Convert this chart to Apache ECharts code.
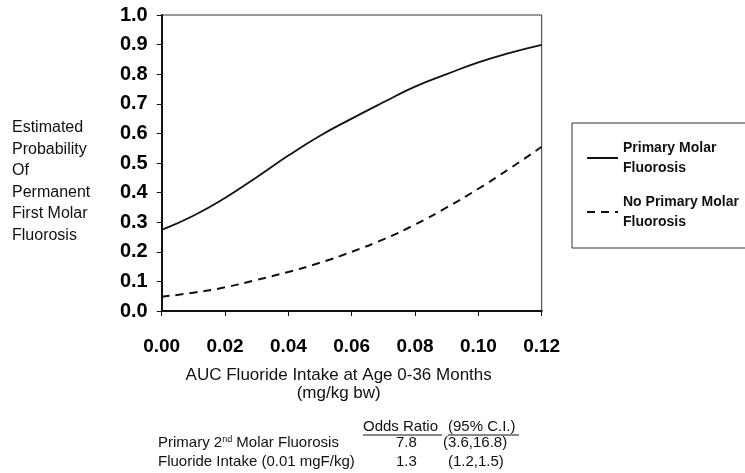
<!DOCTYPE html>
<html>
<head>
<meta charset="utf-8">
<script src="https://cdn.jsdelivr.net/npm/echarts@6/dist/echarts.min.js"></script>
<style>html,body{margin:0;padding:0;background:#fff}#c{width:745px;height:473px}</style>
</head>
<body>
<div id="c"></div>
<script>
const intake = [0.00, 0.01, 0.02, 0.03, 0.04, 0.05, 0.06, 0.07, 0.08, 0.09, 0.10, 0.11, 0.12];
const primaryMolar = [0.274, 0.322, 0.382, 0.452, 0.525, 0.592, 0.650, 0.705, 0.758, 0.800, 0.840, 0.872, 0.899];
const noPrimaryMolar = [0.048, 0.062, 0.080, 0.105, 0.132, 0.163, 0.200, 0.242, 0.292, 0.350, 0.413, 0.482, 0.555];
const seriesNames = ['Primary Molar Fluorosis', 'No Primary Molar Fluorosis'];
const legendLabels = ['Primary Molar\nFluorosis', 'No Primary Molar\nFluorosis'];
const tableHeader = ['Odds Ratio', '(95% C.I.)'];
const tableRows = [
  ['Primary 2{sup|nd} Molar Fluorosis', '7.8', '(3.6,16.8)'],
  ['Fluoride Intake (0.01 mgF/kg)', '1.3', '(1.2,1.5)']
];

const font = 'Liberation Sans, Arial, sans-serif';
const chart = echarts.init(document.getElementById('c'), null, {renderer: 'canvas'});

const graphics = [];
// y axis title
graphics.push({
  type: 'text', left: 12, top: 117,
  style: {text: 'Estimated\nProbability\nOf\nPermanent\nFirst Molar\nFluorosis', font: '16px ' + font, lineHeight: 21.5, fill: '#111'}
});
// table header
const tf = '15px ' + font;
graphics.push({type: 'text', x: 363, y: 427, style: {text: tableHeader[0], font: tf, fill: '#111', verticalAlign: 'middle'}});
graphics.push({type: 'text', x: 448, y: 427, style: {text: tableHeader[1], font: tf, fill: '#111', verticalAlign: 'middle'}});
graphics.push({type: 'line', shape: {x1: 363, y1: 435, x2: 442, y2: 435}, style: {stroke: '#111', lineWidth: 1}});
graphics.push({type: 'line', shape: {x1: 448, y1: 435, x2: 519, y2: 435}, style: {stroke: '#111', lineWidth: 1}});
const rowY = [443, 462];
const ciX = [443, 448];
tableRows.forEach((r, i) => {
  graphics.push({type: 'text', x: 158, y: rowY[i], style: {
    text: r[0], font: tf, fill: '#111', verticalAlign: 'middle',
    rich: {sup: {fontSize: 9, fontFamily: font, padding: [0, 0, 7, 0], fill: '#111'}}
  }});
  graphics.push({type: 'text', x: 396, y: rowY[i], style: {text: r[1], font: tf, fill: '#111', verticalAlign: 'middle'}});
  graphics.push({type: 'text', x: ciX[i], y: rowY[i], style: {text: r[2], font: tf, fill: '#111', verticalAlign: 'middle'}});
});

chart.setOption({
  animation: false,
  backgroundColor: '#fff',
  grid: {left: 161.7, right: 203.3, top: 15, bottom: 162, show: true, borderColor: '#333', borderWidth: 1},
  legend: {
    orient: 'vertical', left: 572, top: 123,
    data: seriesNames.map(n => ({name: n})),
    formatter: n => legendLabels[seriesNames.indexOf(n)],
    itemWidth: 31, itemHeight: 14, itemGap: 14,
    padding: [15, 30, 16, 14],
    borderColor: '#333', borderWidth: 1,
    itemStyle: {opacity: 0, borderWidth: 0},
    textStyle: {fontFamily: font, fontWeight: 'bold', fontSize: 14, lineHeight: 20, color: '#111'}
  },
  xAxis: {
    type: 'value', min: 0, max: 0.12, interval: 0.02,
    name: 'AUC Fluoride Intake at Age 0-36 Months\n(mg/kg bw)',
    nameLocation: 'middle', nameGap: 55,
    nameTextStyle: {fontFamily: font, fontSize: 17, lineHeight: 18, color: '#111', padding: [0, 26, 0, 0]},
    axisLine: {lineStyle: {color: '#111', width: 2}},
    axisTick: {show: true, length: 5, lineStyle: {color: '#111'}},
    splitLine: {show: false},
    axisLabel: {formatter: v => v.toFixed(2), fontFamily: font, fontWeight: 'bold', fontSize: 19, color: '#000', margin: 26}
  },
  yAxis: {
    type: 'value', min: 0, max: 1, interval: 0.1,
    axisLine: {show: true, lineStyle: {color: '#111', width: 2}},
    axisTick: {show: true, length: 5, lineStyle: {color: '#111'}},
    splitLine: {show: false},
    axisLabel: {formatter: v => v.toFixed(1), fontFamily: font, fontWeight: 'bold', fontSize: 20, color: '#000', margin: 14}
  },
  series: [
    {
      name: seriesNames[0], type: 'line', smooth: true, symbol: 'none',
      data: intake.map((x, i) => [x, primaryMolar[i]]),
      lineStyle: {color: '#111', width: 1.8, type: 'solid'}, itemStyle: {color: '#111'}
    },
    {
      name: seriesNames[1], type: 'line', smooth: true, symbol: 'none',
      data: intake.map((x, i) => [x, noPrimaryMolar[i]]),
      lineStyle: {color: '#111', width: 2, type: [8, 6]}, itemStyle: {color: '#111'}
    }
  ],
  graphic: graphics
});
</script>
</body>
</html>
